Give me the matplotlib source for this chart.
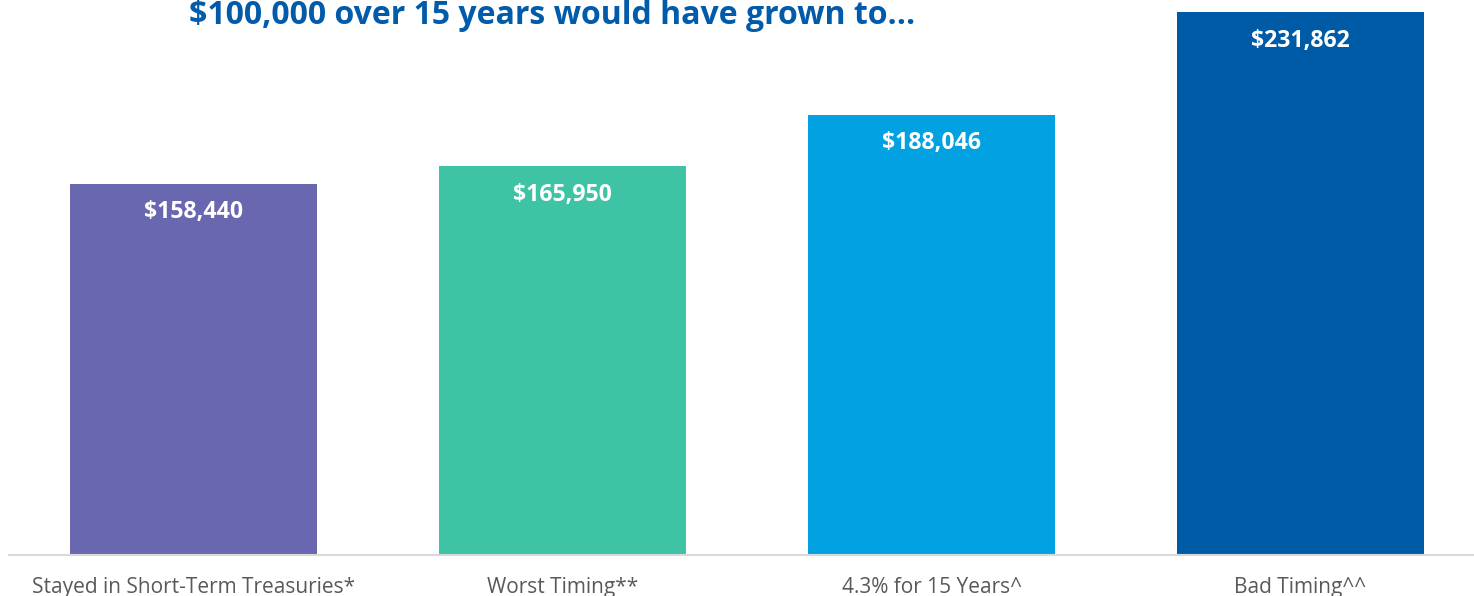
import matplotlib
matplotlib.use("Agg")
import matplotlib.pyplot as plt

# data
categories = ["Stayed in Short-Term Treasuries*", "Worst Timing**",
              "4.3% for 15 Years^", "Bad Timing^^"]
values = [158440, 165950, 188046, 231862]
value_labels = ["$158,440", "$165,950", "$188,046", "$231,862"]
bar_colors = ["#6A67B1", "#3EC4A5", "#02A1E1", "#005BA6"]
title = "$100,000 over 15 years would have grown to..."

plt.rcParams['font.family'] = ['Open Sans', 'DejaVu Sans']

W, H = 1474, 596
fig = plt.figure(figsize=(W / 100, H / 100), dpi=100)
# axes run a bit past the right edge, like the cropped source
ax = fig.add_axes([9 / W, 41 / H, 1476 / W, 555 / H])

x = range(len(categories))
ax.bar(x, values, width=0.67, color=bar_colors)
ax.set_xlim(-0.5, len(categories) - 0.5)
ax.set_ylim(0, 237000)

for i, v in enumerate(values):
    ax.annotate(value_labels[i], (i, v), xytext=(0, -20.5), textcoords="offset points",
                ha="center", va="center", color="white", fontsize=16.7,
                fontweight="bold")

for s in ["top", "right", "left"]:
    ax.spines[s].set_visible(False)
ax.spines["bottom"].set_color("#D9D9D9")
ax.spines["bottom"].set_linewidth(1.5)
ax.set_yticks([])
ax.set_xticks(list(x))
ax.set_xticklabels(categories, fontsize=15, color="#595959")
ax.tick_params(axis="x", length=0, pad=16)

# title sits at the very top (cut off in the source), kept readable here
fig.text(552 / W, 1 - 24 / H, title, ha="center", va="baseline",
         color="#005BAA", fontsize=23, fontweight="bold")

fig.savefig("out.png", dpi=100)
